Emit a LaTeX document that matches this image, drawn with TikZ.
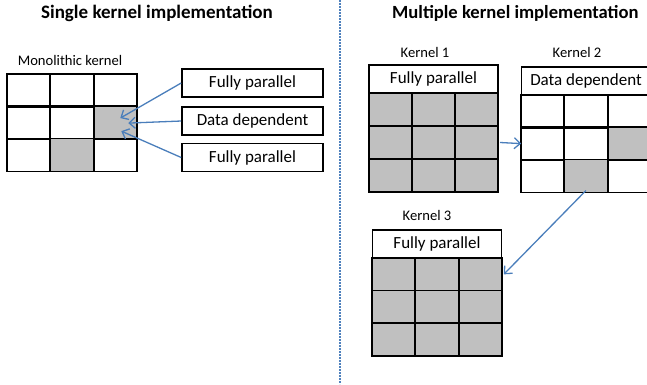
\documentclass[tikz,border=0pt]{standalone}
\usepackage{fontspec}
\setmainfont{Carlito}
\usetikzlibrary{arrows.meta}
\definecolor{cellgray}{HTML}{C0C0C0}
\definecolor{linkblue}{HTML}{4A7EBB}
\definecolor{splitblue}{HTML}{4F81BD}
\tikzset{
  cell/.style={draw, line width=1.6pt, minimum width=43pt, minimum height=33pt, inner sep=0pt, outer sep=0pt},
  hdr/.style={draw, line width=1.6pt, minimum width=129pt, minimum height=28pt, inner sep=0pt, font=\fontsize{17}{19}\selectfont},
  tag/.style={draw, line width=1.6pt, minimum width=141pt, minimum height=28pt, inner sep=0pt, font=\fontsize{17}{19}\selectfont},
  lbl/.style={font=\fontsize{14.6}{16}\selectfont, inner sep=1pt},
  ttl/.style={font=\bfseries\fontsize{19}{21}\selectfont, inner sep=1pt},
  link/.style={draw=linkblue, line width=1.3pt, -{Straight Barb[length=6pt, width=11pt]}},
  split/.style={draw=splitblue, line width=2.6pt, dash pattern=on 2pt off 1pt},
}

\begin{document}
\begin{tikzpicture}[x=1pt, y=-1pt]

  \useasboundingbox (0,0) rectangle (647,384);
  \clip (0,0) rectangle (647,384);

  % left half
  \node[ttl] (ttlS) at (157,13) {Single kernel implementation};
  \node[lbl] (lblM) at (70,60) {Monolithic kernel};
  \foreach \r in {1,2,3}
    \foreach \c in {1,2,3}
      \node[cell] (m-\r-\c) at ({7+43.3*\c-21.65},{74+32.4*\r-16.2}) {};
  \foreach \n in {m-2-3, m-3-2}
    \draw[line width=1.6pt, fill=cellgray] (\n.north west) rectangle (\n.south east);

  \node[tag] (fp1) at (252.5,83) {Fully parallel};
  \node[tag] (dd) at (252.5,121) {Data dependent};
  \node[tag] (fp2) at (252.5,157.5) {Fully parallel};
  \draw[link] (fp1.west) -- ([shift={(5,-4.5)}]m-2-3.center);
  \draw[link] (dd.west) -- ([shift={(13,0.5)}]m-2-3.center);
  \draw[link] (fp2.west) -- ([shift={(6,8.5)}]m-2-3.center);

  \draw[split] (340,0) -- (340,384);

  % right half
  \node[ttl, anchor=west, font=\bfseries\fontsize{18.6}{21}\selectfont] (ttlM) at (391,13) {Multiple kernel implementation};

  \node[lbl] (lblK1) at (425,52) {Kernel 1};
  \node[hdr] (h1) at (433.5,79) {Fully parallel};
  \foreach \r in {1,2,3}
    \foreach \c in {1,2,3}
      \node[cell, fill=cellgray] (k1-\r-\c) at ({369+43*\c-21.5},{93+33*\r-16.5}) {};

  \node[lbl] (lblK2) at (577,52) {Kernel 2};
  \node[hdr] (h2) at (586,81) {Data dependent};
  \foreach \r in {1,2,3}
    \foreach \c in {1,2,3}
      \node[cell] (k2-\r-\c) at ({521+43.3*\c-21.65},{95+32.4*\r-16.2}) {};
  \foreach \n in {k2-2-3, k2-3-2}
    \draw[line width=1.6pt, fill=cellgray] (\n.north west) rectangle (\n.south east);

  \node[lbl] (lblK3) at (427,215) {Kernel 3};
  \node[hdr] (h3) at (437,244) {Fully parallel};
  \foreach \r in {1,2,3}
    \foreach \c in {1,2,3}
      \node[cell, fill=cellgray] (k3-\r-\c) at ({372+43.3*\c-21.65},{258+32.7*\r-16.35}) {};

  \draw[link] ([xshift=2pt]k1-2-3.east) -- (k2-2-1.west);
  \draw[link] ([yshift=2pt]k2-3-2.south) -- ([xshift=2pt]k3-1-3.east);

\end{tikzpicture}
\end{document}
